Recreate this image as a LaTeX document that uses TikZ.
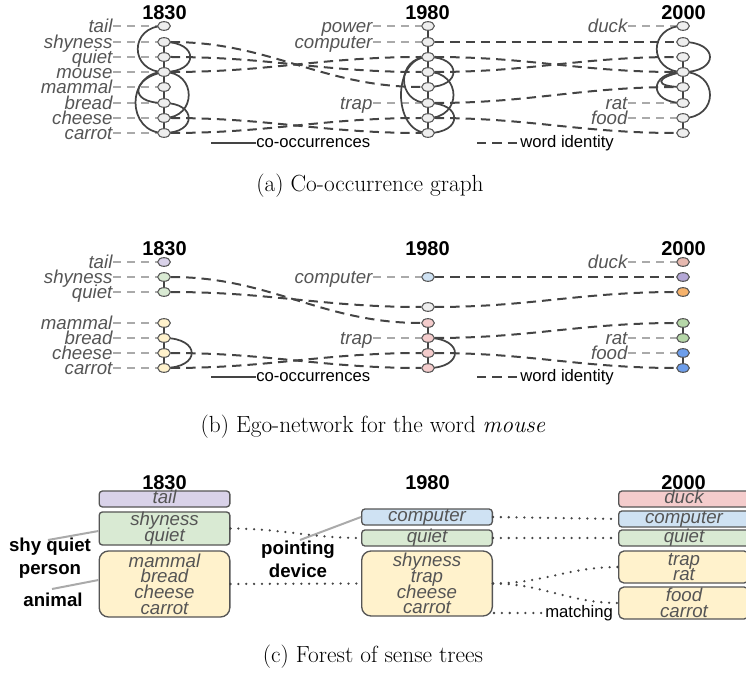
\documentclass[tikz,border=0pt]{standalone}
\usepackage{fontspec}
\newfontfamily\arial{Liberation Sans}
\usetikzlibrary{shapes.geometric,calc}
\definecolor{darkc}{HTML}{444444}
\definecolor{nodeb}{HTML}{555555}
\definecolor{nodef}{HTML}{EEEEEE}
\definecolor{labc}{HTML}{555555}
\definecolor{lightc}{HTML}{AAAAAA}
\definecolor{cpurple}{HTML}{D9D2E9}
\definecolor{cgreen}{HTML}{D9EAD3}
\definecolor{cyellow}{HTML}{FFF2CC}
\definecolor{cblue}{HTML}{CFE2F3}
\definecolor{cpink}{HTML}{F4CCCC}
\definecolor{cgray}{HTML}{EEEEEE}
\definecolor{dpink}{HTML}{E6B8AF}
\definecolor{dpurple}{HTML}{B4A7D6}
\definecolor{dorange}{HTML}{F6B26B}
\definecolor{dgreen}{HTML}{B6D7A8}
\definecolor{dblue}{HTML}{6D9EEB}
\newcommand\mylab{\arial\itshape\fontsize{14}{14}\selectfont}
\newcommand\myyr{\arial\bfseries\fontsize{15}{15}\selectfont}
\newcommand\myleg{\arial\fontsize{12.5}{12.5}\selectfont}
\newcommand\mycap{\fontsize{17.5}{20}\selectfont}
\newcommand\mybox{\arial\itshape\fontsize{14}{11.8}\selectfont\lineskiplimit=-30pt}
\newcommand\myblab{\arial\bfseries\fontsize{14}{17}\selectfont}
\pgfdeclarelayer{bg}
\pgfsetlayers{bg,main}
\begin{document}
\begin{tikzpicture}[x=0.75pt,y=-0.75pt,
  wn/.style={ellipse, draw=nodeb, line width=0.8pt, fill=nodef, minimum width=9.5pt, minimum height=6.5pt, inner sep=0pt},
  lab/.style={anchor=east, font=\mylab, text=labc, inner sep=0.5pt, text height=10pt, text depth=0pt},
  lconn/.style={lightc, line width=1.5pt, dash pattern=on 6pt off 4.5pt},
  ident/.style={darkc, line width=1.5pt, dash pattern=on 7pt off 4.5pt},
  cooc/.style={darkc, line width=1.3pt},
  yr/.style={font=\myyr, inner sep=0pt},
  leg/.style={font=\myleg, anchor=west, inner sep=0pt, text height=9pt, text depth=2pt},
  captxt/.style={font=\mycap, inner sep=0pt},
  sbox/.style={draw=nodeb, line width=1pt, rounded corners=2.5pt, minimum width=98pt, font=\mybox, text=labc, align=center, inner sep=0pt},
  one/.style={text height=9pt, text depth=3pt},
  blab/.style={font=\myblab, align=center, inner sep=0pt},
  gline/.style={lightc, line width=1.5pt},
  dotl/.style={darkc, line width=1.9pt, line cap=round, dash pattern=on 0pt off 5.9pt}
]
\useasboundingbox (0,0) rectangle (746,677);
\clip (0,0) rectangle (746,677);

% ================= panel (a) =================
\node[yr] (tA) at (164.5,12.5) {1830};
\node[yr] (tB) at (427.5,12.5) {1980};
\node[yr] (tC) at (683.5,12.5) {2000};
\foreach \i/\y in {1/26,2/42,3/57,4/72,5/87,6/103,7/118,8/133} {
  \node[wn] (aA\i) at (164,\y) {};
  \node[wn] (aB\i) at (428,\y) {};
  \node[wn] (aC\i) at (683,\y) {};
}
\foreach \i/\w in {1/tail,2/shyness,3/quiet,4/mouse,5/mammal,6/bread,7/cheese,8/carrot} {
  \node[lab, xshift=-38pt] (laA\i) at (aA\i) {\w};
  \begin{pgfonlayer}{bg}\draw[lconn] (laA\i.east) -- (aA\i.west);\end{pgfonlayer}
}
\foreach \i/\w in {1/power,2/computer,6/trap} {
  \node[lab, xshift=-41pt] (laB\i) at (aB\i) {\w};
  \begin{pgfonlayer}{bg}\draw[lconn] (laB\i.east) -- (aB\i.west);\end{pgfonlayer}
}
\foreach \i/\w in {1/duck,6/rat,7/food} {
  \node[lab, xshift=-41pt] (laC\i) at (aC\i) {\w};
  \begin{pgfonlayer}{bg}\draw[lconn] (laC\i.east) -- (aC\i.west);\end{pgfonlayer}
}
\begin{pgfonlayer}{bg}
% 1830 edges
\foreach \a/\b in {2/3,3/4,4/5,5/6,6/7,7/8} \draw[cooc] (aA\a.center) -- (aA\b.center);
\draw[cooc] (aA1.center) .. controls +(-35,0) and +(-35,0) .. (aA4.center);
\draw[cooc] (aA2.center) .. controls +(35,0) and +(35,0) .. (aA4.center);
\draw[cooc] (aA4.center) .. controls +(-30,5) and +(-38,0) .. (aA6.center);
\draw[cooc] (aA4.center) .. controls +(-38,0) and +(-38,0) .. (aA8.center);
\draw[cooc] (aA4.center) .. controls +(33,0) and +(33,0) .. (aA7.center);
\draw[cooc] (aA6.center) .. controls +(33,0) and +(33,0) .. (aA8.center);
% 1980 edges
\foreach \a/\b in {1/2,2/3,3/4,4/5,5/6,6/7,7/8} \draw[cooc] (aB\a.center) -- (aB\b.center);
\draw[cooc] (aB3.center) .. controls +(34,0) and +(34,0) .. (aB5.center);
\draw[cooc] (aB3.center) .. controls +(-36,0) and +(-36,0) .. (aB8.center);
\draw[cooc] (aB3.center) .. controls +(-32,0) and +(-32,0) .. (aB6.center);
\draw[cooc] (aB4.center) .. controls +(34,0) and +(34,0) .. (aB7.center);
\draw[cooc] (aB6.center) .. controls +(35,0) and +(35,0) .. (aB8.center);
% 2000 edges
\foreach \a/\b in {3/4,4/5,5/6,7/8} \draw[cooc] (aC\a.center) -- (aC\b.center);
\draw[cooc] (aC1.center) .. controls +(-35,0) and +(-35,0) .. (aC4.center);
\draw[cooc] (aC2.center) .. controls +(36,0) and +(36,0) .. (aC4.center);
\draw[cooc] (aC4.center) .. controls +(-35,0) and +(-35,0) .. (aC6.center);
\draw[cooc] (aC4.center) .. controls +(-28,5) and +(-30,0) .. (aC5.center);
\draw[cooc] (aC4.center) .. controls +(36,0) and +(36,0) .. (aC7.center);
% identity
\draw[ident] (aA2.east) to[out=0,in=180] (aB5.west);
\draw[ident] (aA3.east) to[out=0,in=180] (aB4.west);
\draw[ident] (aA4.east) to[out=0,in=180] (aB3.west);
\draw[ident] (aA7.east) to[out=0,in=180] (aB8.west);
\draw[ident] (aA8.east) to[out=0,in=180] (aB7.west);
\draw[ident] (aB2.east) -- (aC2.west);
\draw[ident] (aB3.east) to[out=0,in=180] (aC4.west);
\draw[ident] (aB4.east) to[out=0,in=180] (aC3.west);
\draw[ident] (aB6.east) to[out=0,in=180] (aC5.west);
\draw[ident] (aB7.east) to[out=0,in=180] (aC8.west);
\end{pgfonlayer}
% legend (a)
\coordinate (lgA1) at (211,143);
\node[leg] (lgAt) at (256,143) {co-occurrences};
\draw[darkc, line width=2.2pt] (lgA1) -- (lgAt.west);
\coordinate (lgB1) at (477,143);
\node[leg] (lgBt) at (520,143) {word identity};
\draw[ident] (lgB1) -- (lgBt.west);
\node[captxt] (capa) at (370,186) {(a) Co-occurrence graph};

% ================= panel (b) =================
\node[yr] (tbA) at (164.5,248.5) {1830};
\node[yr] (tbB) at (427.5,248.5) {1980};
\node[yr] (tbC) at (683.5,248.5) {2000};
\node[wn, fill=cpurple] (bA1) at (164,262) {};
\node[wn, fill=cgreen] (bA2) at (164,277) {};
\node[wn, fill=cgreen] (bA3) at (164,292) {};
\node[wn, fill=cyellow] (bA5) at (164,323) {};
\node[wn, fill=cyellow] (bA6) at (164,338) {};
\node[wn, fill=cyellow] (bA7) at (164,353) {};
\node[wn, fill=cyellow] (bA8) at (164,368) {};
\node[wn, fill=cblue] (bB2) at (428,277) {};
\node[wn, fill=cgray] (bB4) at (428,307) {};
\node[wn, fill=cpink] (bB5) at (428,323) {};
\node[wn, fill=cpink] (bB6) at (428,338) {};
\node[wn, fill=cpink] (bB7) at (428,353) {};
\node[wn, fill=cpink] (bB8) at (428,368) {};
\node[wn, fill=dpink] (bC1) at (683,262) {};
\node[wn, fill=dpurple] (bC2) at (683,277) {};
\node[wn, fill=dorange] (bC3) at (683,292) {};
\node[wn, fill=dgreen] (bC5) at (683,323) {};
\node[wn, fill=dgreen] (bC6) at (683,338) {};
\node[wn, fill=dblue] (bC7) at (683,353) {};
\node[wn, fill=dblue] (bC8) at (683,368) {};
\foreach \i/\w in {1/tail,2/shyness,3/quiet,5/mammal,6/bread,7/cheese,8/carrot} {
  \node[lab, xshift=-38pt] (lbA\i) at (bA\i) {\w};
  \begin{pgfonlayer}{bg}\draw[lconn] (lbA\i.east) -- (bA\i.west);\end{pgfonlayer}
}
\foreach \i/\w in {2/computer,6/trap} {
  \node[lab, xshift=-41pt] (lbB\i) at (bB\i) {\w};
  \begin{pgfonlayer}{bg}\draw[lconn] (lbB\i.east) -- (bB\i.west);\end{pgfonlayer}
}
\foreach \i/\w in {1/duck,6/rat,7/food} {
  \node[lab, xshift=-41pt] (lbC\i) at (bC\i) {\w};
  \begin{pgfonlayer}{bg}\draw[lconn] (lbC\i.east) -- (bC\i.west);\end{pgfonlayer}
}
\begin{pgfonlayer}{bg}
\foreach \a/\b in {2/3,5/6,6/7,7/8} \draw[cooc] (bA\a.center) -- (bA\b.center);
\draw[cooc] (bA6.center) .. controls +(37,0) and +(37,0) .. (bA8.center);
\foreach \a/\b in {5/6,6/7,7/8} \draw[cooc] (bB\a.center) -- (bB\b.center);
\draw[cooc] (bB6.center) .. controls +(36,0) and +(36,0) .. (bB8.center);
\foreach \a/\b in {5/6,7/8} \draw[cooc] (bC\a.center) -- (bC\b.center);
\draw[ident] (bA2.east) to[out=0,in=180] (bB5.west);
\draw[ident] (bA3.east) to[out=0,in=180] (bB4.west);
\draw[ident] (bA7.east) to[out=0,in=180] (bB8.west);
\draw[ident] (bA8.east) to[out=0,in=180] (bB7.west);
\draw[ident] (bB2.east) -- (bC2.west);
\draw[ident] (bB4.east) to[out=0,in=180] (bC3.west);
\draw[ident] (bB6.east) to[out=0,in=180] (bC5.west);
\draw[ident] (bB7.east) to[out=0,in=180] (bC8.west);
\end{pgfonlayer}
\coordinate (lgC1) at (211,377);
\node[leg] (lgCt) at (256,377) {co-occurrences};
\draw[darkc, line width=2.2pt] (lgC1) -- (lgCt.west);
\coordinate (lgD1) at (477,377);
\node[leg] (lgDt) at (520,377) {word identity};
\draw[ident] (lgD1) -- (lgDt.west);
\node[captxt] (capb) at (373,427) {(b) Ego-network for the word \textit{mouse}};

% ================= panel (c) =================
\node[yr] (tcA) at (164.5,483) {1830};
\node[yr] (tcB) at (427.5,483) {1980};
\node[yr] (tcC) at (683.5,483) {2000};
\node[sbox, one, fill=cpurple, minimum height=12pt] (cA1) at (164.5,499) {tail};
\node[sbox, fill=cgreen, minimum height=24.75pt] (cA2) at (164.5,528.5) {shyness\\quiet};
\node[sbox, fill=cyellow, minimum height=49.5pt, rounded corners=7pt] (cA3) at (164.5,584) {mammal\\bread\\cheese\\carrot};
\node[sbox, one, fill=cblue, minimum height=12pt] (cB1) at (427,517) {computer};
\node[sbox, one, fill=cgreen, minimum height=12pt] (cB2) at (427,538) {quiet};
\node[sbox, fill=cyellow, minimum height=48.75pt, rounded corners=7pt] (cB3) at (427,583.5) {shyness\\trap\\cheese\\carrot};
\node[sbox, one, fill=cpink, minimum height=12pt] (cC1) at (684,499) {duck};
\node[sbox, one, fill=cblue, minimum height=12pt] (cC2) at (684,519) {computer};
\node[sbox, one, fill=cgreen, minimum height=12pt] (cC3) at (684,538) {quiet};
\node[sbox, fill=cyellow, minimum height=24pt, rounded corners=4pt] (cC4) at (684,567) {trap\\rat};
\node[sbox, fill=cyellow, minimum height=24pt, rounded corners=4pt] (cC5) at (684,603) {food\\carrot};
\node[blab] (shyq) at (50,558) {shy quiet\\person};
\node[blab] (anim) at (53,600) {animal};
\node[blab] (pdev) at (298,559) {pointing\\device};
\coordinate (gA1) at (48,540);
\coordinate (gA2) at (52,589);
\coordinate (gA3) at (300,540);
\draw[gline] (gA1) -- ($(cA2.west)+(0,2.5)$);
\draw[gline] (gA2) -- ($(cA3.west)+(0,-4)$);
\draw[gline] (gA3) -- (cB1.west);
\draw[dotl] (cA2.east) to[out=0,in=180] (cB2.west);
\draw[dotl] (cA3.east) -- (cB3.west);
\draw[dotl] (cB1.east) -- (cC2.west);
\draw[dotl] (cB2.east) -- (cC3.west);
\draw[dotl] (cB3.east) to[out=0,in=180] (cC4.west);
\draw[dotl] (cB3.east) to[out=0,in=180] (cC5.west);
\coordinate (mt0) at (494,613);
\node[leg] (mt) at (545,613) {matching};
\draw[dotl] (mt0) -- (mt.west);
\node[captxt] (capc) at (373,657) {(c) Forest of sense trees};
\end{tikzpicture}
\end{document}
